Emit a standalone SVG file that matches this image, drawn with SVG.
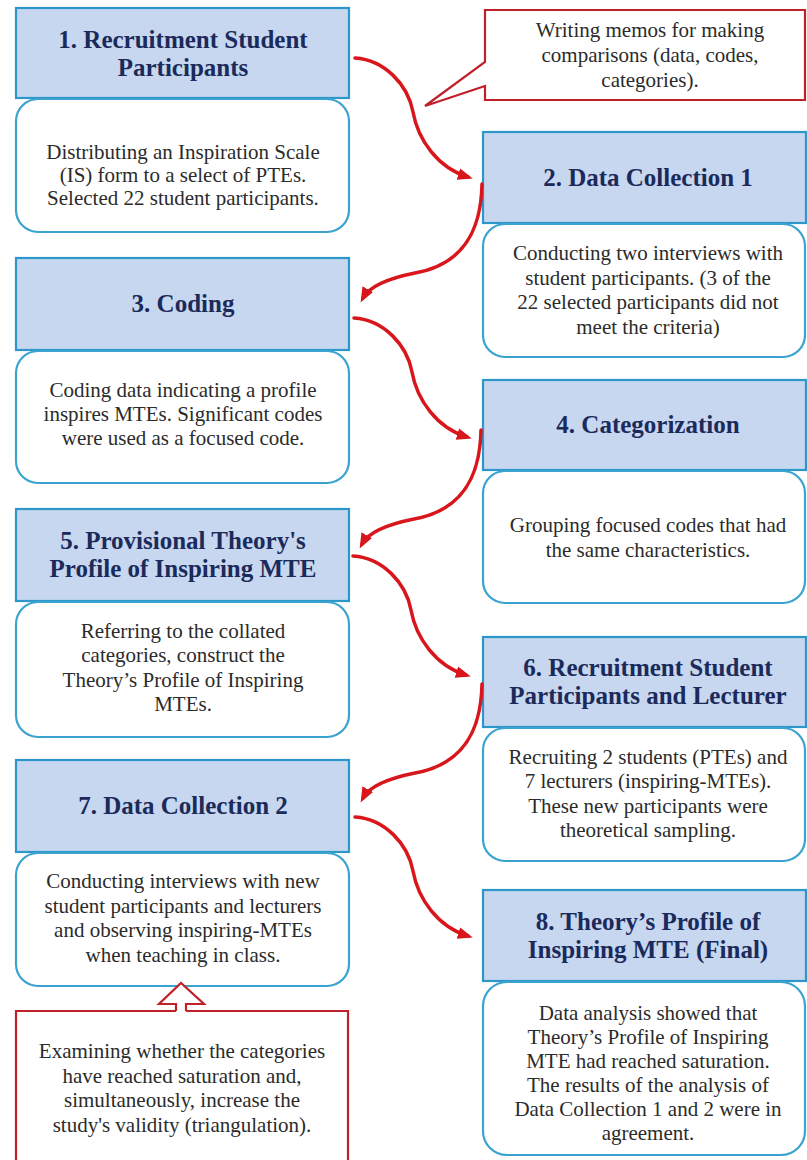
<svg xmlns="http://www.w3.org/2000/svg" width="807" height="1160" viewBox="0 0 807 1160">
<style>
.hd{fill:#C6D7EF;stroke:#2E97C9;stroke-width:2.2}
.bd{fill:#FFFFFF;stroke:#3BA3D0;stroke-width:2.2}
.ht{font-family:"Liberation Serif","Times New Roman",serif;font-weight:bold;font-size:25px;fill:#1B2A5A;text-anchor:middle}
.bt{font-family:"Liberation Serif","Times New Roman",serif;font-size:21px;fill:#2B2B2B;text-anchor:middle}
.co{fill:#FFFFFF;stroke:#C0202A;stroke-width:2.2}
.ar{fill:none;stroke:#D8161C;stroke-width:3.5;stroke-linecap:round;marker-end:url(#ah)}
</style>
<defs>
<marker id="ah" markerUnits="userSpaceOnUse" markerWidth="16" markerHeight="14" refX="10" refY="6" orient="auto">
<path d="M0,0 L15,6 L0,12 Z" fill="#D8161C"/>
</marker>
</defs>
<rect width="807" height="1160" fill="#FFFFFF"/>

<g id="memo-callout">
<path class="co" d="M485,10 L805,10 L805,100 L485,100 L485,86 L425,106 L485,62 Z"/>
<text class="bt" x="650" y="37">Writing memos for making</text>
<text class="bt" x="650" y="62">comparisons (data, codes,</text>
<text class="bt" x="650" y="87">categories).</text>
</g>

<g id="node1">
<rect class="hd" x="16" y="8" width="333" height="90"/>
<text class="ht" x="183" y="48">1. Recruitment Student</text>
<text class="ht" x="183" y="76">Participants</text>
<rect class="bd" x="16" y="99" width="333" height="133" rx="22"/>
<text class="bt" x="183" y="159">Distributing an Inspiration Scale</text>
<text class="bt" x="183" y="182">(IS) form to a select of PTEs.</text>
<text class="bt" x="183" y="205">Selected 22 student participants.</text>
</g>

<g id="node2">
<rect class="hd" x="483" y="132" width="323" height="91"/>
<text class="ht" x="648" y="186">2. Data Collection 1</text>
<rect class="bd" x="483" y="224" width="322" height="133" rx="22"/>
<text class="bt" x="648" y="260">Conducting two interviews with</text>
<text class="bt" x="648" y="284.5">student participants. (3 of the</text>
<text class="bt" x="648" y="309">22 selected participants did not</text>
<text class="bt" x="648" y="333.5">meet the criteria)</text>
</g>

<g id="node3">
<rect class="hd" x="16" y="258" width="333" height="92"/>
<text class="ht" x="183" y="312">3. Coding</text>
<rect class="bd" x="16" y="351" width="333" height="132" rx="22"/>
<text class="bt" x="183" y="397">Coding data indicating a profile</text>
<text class="bt" x="183" y="421">inspires MTEs. Significant codes</text>
<text class="bt" x="183" y="445">were used as a focused code.</text>
</g>

<g id="node4">
<rect class="hd" x="483" y="380" width="323" height="90"/>
<text class="ht" x="648" y="433">4. Categorization</text>
<rect class="bd" x="483" y="471" width="322" height="132" rx="22"/>
<text class="bt" x="648" y="532">Grouping focused codes that had</text>
<text class="bt" x="648" y="557">the same characteristics.</text>
</g>

<g id="node5">
<rect class="hd" x="16" y="509" width="333" height="92"/>
<text class="ht" x="183" y="549">5. Provisional Theory's</text>
<text class="ht" x="183" y="577">Profile of Inspiring MTE</text>
<rect class="bd" x="16" y="602" width="333" height="135" rx="22"/>
<text class="bt" x="183" y="638">Referring to the collated</text>
<text class="bt" x="183" y="662">categories, construct the</text>
<text class="bt" x="183" y="687">Theory’s Profile of Inspiring</text>
<text class="bt" x="183" y="711">MTEs.</text>
</g>

<g id="node6">
<rect class="hd" x="483" y="637" width="323" height="90"/>
<text class="ht" x="648" y="676">6. Recruitment Student</text>
<text class="ht" x="648" y="704">Participants and Lecturer</text>
<rect class="bd" x="483" y="728" width="322" height="133" rx="22"/>
<text class="bt" x="648" y="764">Recruiting 2 students (PTEs) and</text>
<text class="bt" x="648" y="788">7 lecturers (inspiring-MTEs).</text>
<text class="bt" x="648" y="813">These new participants were</text>
<text class="bt" x="648" y="837">theoretical sampling.</text>
</g>

<g id="node7">
<rect class="hd" x="16" y="760" width="333" height="92"/>
<text class="ht" x="183" y="814">7. Data Collection 2</text>
<rect class="bd" x="16" y="853" width="333" height="133" rx="22"/>
<text class="bt" x="183" y="888">Conducting interviews with new</text>
<text class="bt" x="183" y="913">student participants and lecturers</text>
<text class="bt" x="183" y="937">and observing inspiring-MTEs</text>
<text class="bt" x="183" y="962">when teaching in class.</text>
</g>

<g id="node8">
<rect class="hd" x="483" y="890" width="323" height="91"/>
<text class="ht" x="648" y="930">8. Theory’s Profile of</text>
<text class="ht" x="648" y="958">Inspiring MTE (Final)</text>
<rect class="bd" x="483" y="982" width="322" height="173" rx="24"/>
<text class="bt" x="648" y="1020">Data analysis showed that</text>
<text class="bt" x="648" y="1044">Theory’s Profile of Inspiring</text>
<text class="bt" x="648" y="1068">MTE had reached saturation.</text>
<text class="bt" x="648" y="1092">The results of the analysis of</text>
<text class="bt" x="648" y="1116">Data Collection 1 and 2 were in</text>
<text class="bt" x="648" y="1140">agreement.</text>
</g>

<g id="saturation-callout">
<path class="co" d="M16,1175 L16,1011 L348,1011 L348,1175"/>
<polygon points="181,983 204,1004 186,1004 186,1012.5 176,1012.5 176,1004 159,1004" fill="#FFFFFF"/>
<polyline points="176,1011 176,1004 159,1004 181,983 204,1004 186,1004 186,1011" fill="none" stroke="#C0202A" stroke-width="2.2" stroke-linejoin="miter"/>
<text class="bt" x="182" y="1058">Examining whether the categories</text>
<text class="bt" x="182" y="1083">have reached saturation and,</text>
<text class="bt" x="182" y="1107">simultaneously, increase the</text>
<text class="bt" x="182" y="1132">study's validity (triangulation).</text>
</g>

<g id="connectors">
<path id="c12" class="ar" d="M355,58 C385,60 408,85 413,112 C418,140 438,168 468,177"/>
<path id="c23" class="ar" d="M482,184 C481,235 460,265 415,273 C390,278 370,285 363,298"/>
<path id="c34" class="ar" d="M355,58 C385,60 408,85 413,112 C418,140 438,168 468,177" transform="translate(-1,260)"/>
<path id="c45" class="ar" d="M482,184 C481,235 460,265 415,273 C390,278 370,285 363,298" transform="translate(-1,246)"/>
<path id="c56" class="ar" d="M355,58 C385,60 408,85 413,112 C418,140 438,168 468,177" transform="translate(-2,498)"/>
<path id="c67" class="ar" d="M482,184 C481,235 460,265 415,273 C390,278 370,285 363,298" transform="translate(0,500)"/>
<path id="c78" class="ar" d="M355,58 C385,60 408,85 413,112 C418,140 438,168 468,177" transform="translate(0,759)"/>
</g>
</svg>
